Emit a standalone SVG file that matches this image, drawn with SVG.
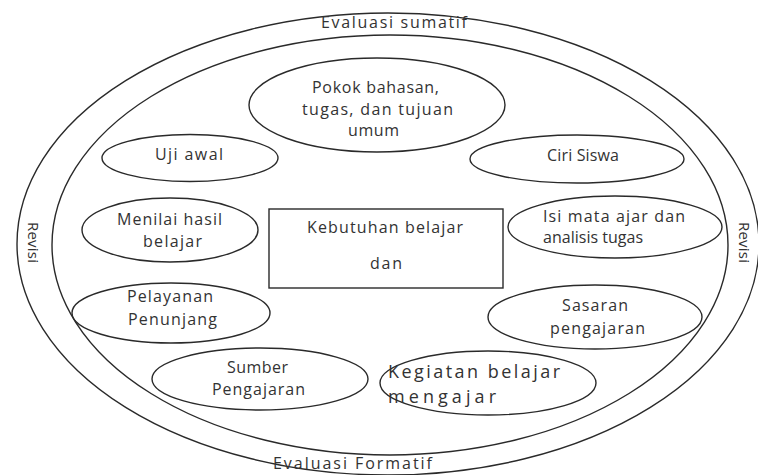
<svg xmlns="http://www.w3.org/2000/svg" width="758" height="475" viewBox="0 0 758 475">
<style>
.ln{fill:none;stroke:#2a2a2a;stroke-width:1.4}
.bx{fill:#ffffff;stroke:#2a2a2a;stroke-width:1.4}
text{font-family:"Open Sans","Liberation Sans",Arial,sans-serif;font-size:16px;fill:#333333}
.big{font-size:16px}
.rv{font-size:15px}
.kg{font-size:18px}
</style>
<rect x="0" y="0" width="758" height="475" fill="#ffffff"/>
<g id="outer-ring">
<ellipse class="ln" cx="388" cy="244" rx="371" ry="231"/>
<ellipse class="ln" cx="390" cy="245" rx="338" ry="210"/>
<text class="big" x="321" y="28" textLength="146" lengthAdjust="spacing">Evaluasi sumatif</text>
<text class="big" x="273" y="469" textLength="159" lengthAdjust="spacing">Evaluasi Formatif</text>
<text class="rv" transform="translate(28,222) rotate(90)" textLength="41" lengthAdjust="spacing">Revisi</text>
<text class="rv" transform="translate(739,222) rotate(90)" textLength="41" lengthAdjust="spacing">Revisi</text>
</g>
<g id="connectors"></g>
<g id="node-pokok">
<ellipse class="ln" cx="377" cy="105" rx="128" ry="47"/>
<text x="312" y="93" textLength="127" lengthAdjust="spacing">Pokok bahasan,</text>
<text x="302" y="115" textLength="151" lengthAdjust="spacing">tugas, dan tujuan</text>
<text x="348" y="136" textLength="51" lengthAdjust="spacing">umum</text>
</g>
<g id="node-uji">
<ellipse class="ln" cx="190" cy="158" rx="88" ry="23.5"/>
<text x="155" y="160" textLength="68" lengthAdjust="spacing">Uji awal</text>
</g>
<g id="node-ciri">
<ellipse class="ln" cx="577" cy="159" rx="107" ry="24"/>
<text x="547" y="161" textLength="72" lengthAdjust="spacing">Ciri Siswa</text>
</g>
<g id="node-menilai">
<ellipse class="ln" cx="170" cy="230" rx="88" ry="32"/>
<text x="117" y="225" textLength="105" lengthAdjust="spacing">Menilai hasil</text>
<text x="143" y="247" textLength="59" lengthAdjust="spacing">belajar</text>
</g>
<g id="node-kebutuhan">
<rect class="bx" x="269" y="209" width="234" height="79"/>
<text x="307" y="233" textLength="156" lengthAdjust="spacing">Kebutuhan belajar</text>
<text x="370" y="269" textLength="32" lengthAdjust="spacing">dan</text>
</g>
<g id="node-isi">
<ellipse class="ln" cx="615" cy="227" rx="107" ry="31"/>
<text x="543" y="222" textLength="142" lengthAdjust="spacing">Isi mata ajar dan</text>
<text x="543" y="243" textLength="100" lengthAdjust="spacing">analisis tugas</text>
</g>
<g id="node-pelayanan">
<ellipse class="ln" cx="171" cy="313" rx="99" ry="30"/>
<text x="127" y="302" textLength="86" lengthAdjust="spacing">Pelayanan</text>
<text x="128" y="325" textLength="89" lengthAdjust="spacing">Penunjang</text>
</g>
<g id="node-sasaran">
<ellipse class="ln" cx="595" cy="317" rx="107" ry="32"/>
<text x="562" y="311" textLength="66" lengthAdjust="spacing">Sasaran</text>
<text x="550" y="334" textLength="95" lengthAdjust="spacing">pengajaran</text>
</g>
<g id="node-sumber">
<ellipse class="ln" cx="260" cy="379" rx="108" ry="31"/>
<text x="227" y="373" textLength="61" lengthAdjust="spacing">Sumber</text>
<text x="212" y="395" textLength="93" lengthAdjust="spacing">Pengajaran</text>
</g>
<g id="node-kegiatan">
<ellipse class="ln" cx="488" cy="383" rx="108" ry="32"/>
<text class="kg" x="388" y="378" textLength="172" lengthAdjust="spacing">Kegiatan belajar</text>
<text class="kg" x="388" y="403" textLength="108" lengthAdjust="spacing">mengajar</text>
</g>
</svg>
